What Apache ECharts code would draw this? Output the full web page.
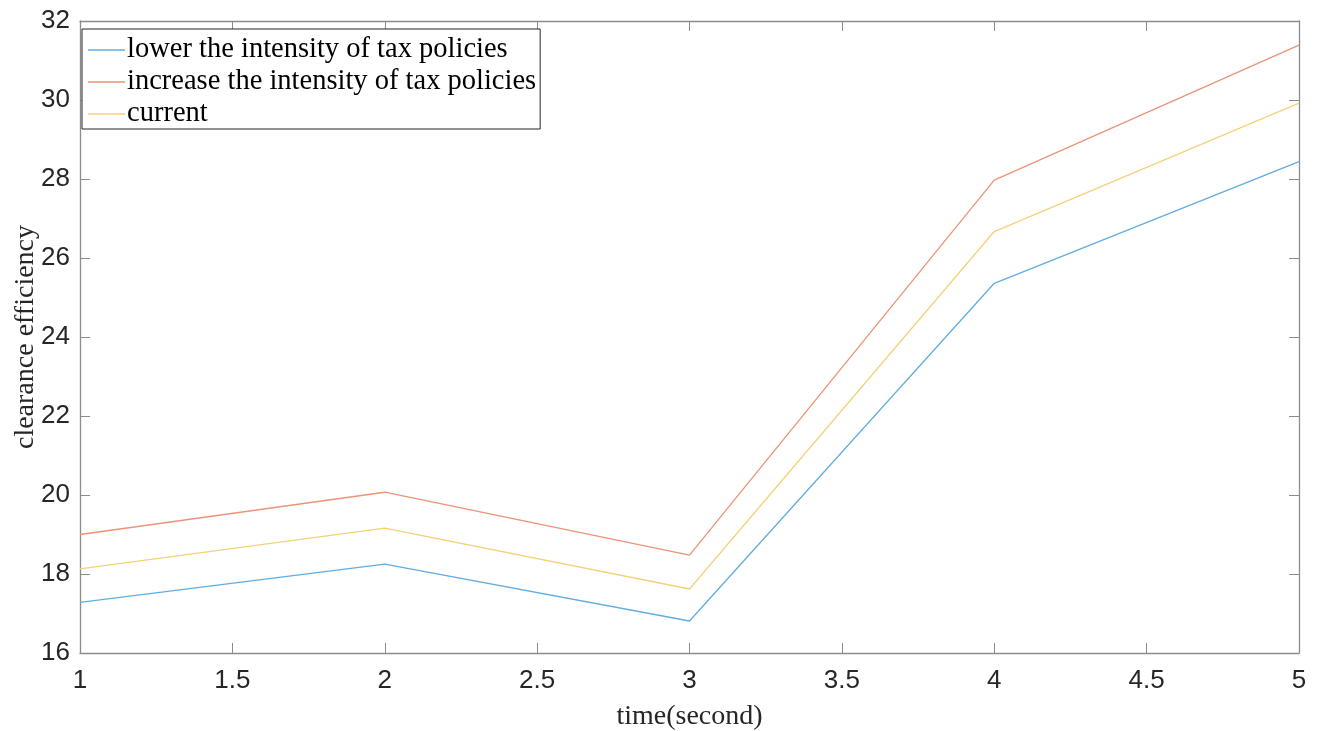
<!DOCTYPE html>
<html>
<head>
<meta charset="utf-8">
<script src="https://cdn.jsdelivr.net/npm/echarts@6/dist/echarts.min.js"></script>
<style>html,body{margin:0;padding:0;background:#fff}#c{width:1319px;height:731px}</style>
</head>
<body>
<div id="c"></div>
<script>
const timeValues = [1, 2, 3, 4, 5];
const lowerValues = [17.28, 18.25, 16.81, 25.36, 28.44];
const increaseValues = [19.00, 20.07, 18.48, 27.97, 31.39];
const currentValues = [18.13, 19.16, 17.62, 26.67, 29.92];
const seriesNames = ['lower the intensity of tax policies', 'increase the intensity of tax policies', 'current'];
const xLabel = 'time(second)';
const yLabel = 'clearance efficiency';

const colors = ['#62ADE0', '#EB9478', '#F4D27A'];
const axisGray = '#8c8c8c';
const labelColor = '#262626';
const serif = '"Liberation Serif", "Times New Roman", serif';
const sans = '"Liberation Sans", Arial, sans-serif';

function pairs(vals) { return timeValues.map((t, i) => [t, vals[i]]); }

const chart = echarts.init(document.getElementById('c'));
const axisLineStyle = { lineStyle: { color: axisGray, width: 1.3 } };
chart.setOption({
  animation: false,
  color: colors,
  grid: { left: 80, right: 20, top: 21, bottom: 78, containLabel: false, outerBoundsMode: 'none' },
  legend: {
    orient: 'vertical', left: 82, top: 29,
    backgroundColor: '#fff',
    borderColor: '#262626', borderWidth: 1,
    padding: [6, 4, 0, 6],
    itemGap: 2, itemWidth: 37, itemHeight: 1.5,
    icon: 'rect',
    textStyle: { fontFamily: serif, fontSize: 28.5, color: '#000', lineHeight: 30, padding: [0, 0, 0, -3] },
    data: seriesNames
  },
  xAxis: [
    { type: 'value', min: 1, max: 5, interval: 0.5, position: 'bottom',
      axisLine: axisLineStyle, splitLine: { show: false },
      axisTick: { inside: true, length: 10, lineStyle: { color: axisGray } },
      axisLabel: { fontFamily: sans, fontSize: 26, color: labelColor, margin: 15 },
      name: xLabel, nameLocation: 'middle', nameGap: 50, nameMoveOverlap: false,
      nameTextStyle: { fontFamily: serif, fontSize: 28, color: labelColor } },
    { type: 'value', min: 1, max: 5, interval: 0.5, position: 'top',
      axisLine: axisLineStyle, splitLine: { show: false },
      axisTick: { inside: true, length: 10, lineStyle: { color: axisGray } },
      axisLabel: { show: false } }
  ],
  yAxis: [
    { type: 'value', min: 16, max: 32, interval: 2, position: 'left',
      axisLine: axisLineStyle, splitLine: { show: false },
      axisTick: { inside: true, length: 10, lineStyle: { color: axisGray } },
      axisLabel: { fontFamily: sans, fontSize: 26, color: labelColor, margin: 10 },
      name: yLabel, nameLocation: 'middle', nameGap: 40, nameRotate: 90, nameMoveOverlap: false,
      nameTextStyle: { fontFamily: serif, fontSize: 28, color: labelColor } },
    { type: 'value', min: 16, max: 32, interval: 2, position: 'right',
      axisLine: axisLineStyle, splitLine: { show: false },
      axisTick: { inside: true, length: 10, lineStyle: { color: axisGray } },
      axisLabel: { show: false } }
  ],
  series: [
    { name: seriesNames[0], type: 'line', data: pairs(lowerValues), showSymbol: false, lineStyle: { width: 1.3 } },
    { name: seriesNames[1], type: 'line', data: pairs(increaseValues), showSymbol: false, lineStyle: { width: 1.3 } },
    { name: seriesNames[2], type: 'line', data: pairs(currentValues), showSymbol: false, lineStyle: { width: 1.3 } }
  ]
});
</script>
</body>
</html>
